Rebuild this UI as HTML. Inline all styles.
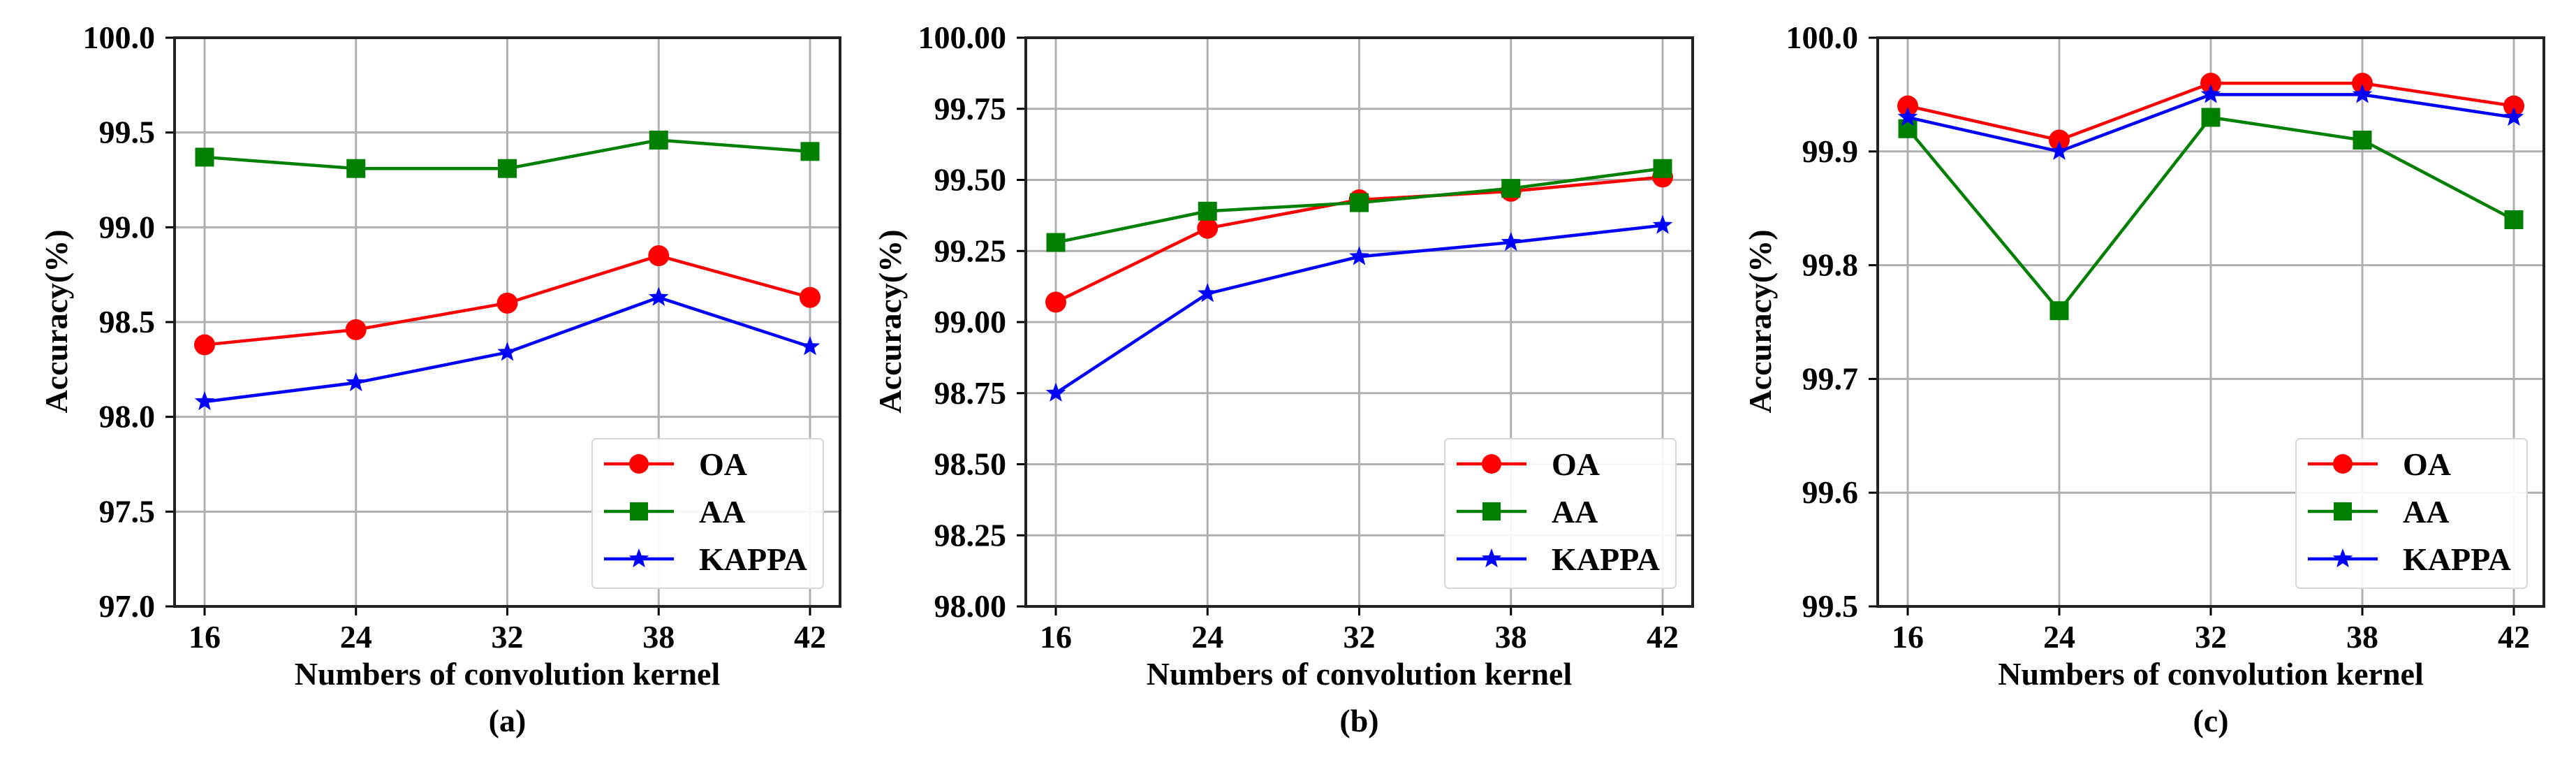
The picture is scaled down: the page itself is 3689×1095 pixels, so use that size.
<!DOCTYPE html>
<html><head><meta charset="utf-8"><style>
html,body{margin:0;padding:0;background:#fff}
svg{display:block}
text{font-family:"Liberation Serif",serif;font-weight:bold;fill:#000}
</style></head>
<body>
<svg id="fig" width="3689" height="1095" viewBox="0 0 3689 1095" xmlns="http://www.w3.org/2000/svg"></svg>
<script>
const categories = ["16","24","32","38","42"];
const aOA = [98.38,98.46,98.60,98.85,98.63];
const aAA = [99.37,99.31,99.31,99.46,99.40];
const aKAPPA = [98.08,98.18,98.34,98.63,98.37];
const bOA = [99.07,99.33,99.43,99.46,99.51];
const bAA = [99.28,99.39,99.42,99.47,99.54];
const bKAPPA = [98.75,99.10,99.23,99.28,99.34];
const cOA = [99.94,99.91,99.96,99.96,99.94];
const cAA = [99.92,99.76,99.93,99.91,99.84];
const cKAPPA = [99.93,99.90,99.95,99.95,99.93];
const aTicks = ["97.0","97.5","98.0","98.5","99.0","99.5","100.0"];
const bTicks = ["98.00","98.25","98.50","98.75","99.00","99.25","99.50","99.75","100.00"];
const cTicks = ["99.5","99.6","99.7","99.8","99.9","100.0"];
const seriesNames = ["OA","AA","KAPPA"];

const NS="http://www.w3.org/2000/svg";
const svg=document.getElementById('fig');
function mk(tag,attrs,parent){const e=document.createElementNS(NS,tag);for(const k in attrs)e.setAttribute(k,attrs[k]);(parent||svg).appendChild(e);return e;}
const colors={OA:"#ff0000",AA:"#008000",KAPPA:"#0000ff"};

function starPts(cx,cy,R){const r=R*0.42;let p=[];for(let i=0;i<10;i++){const a=-Math.PI/2+i*Math.PI/5;const rr=i%2?r:R;p.push((cx+rr*Math.cos(a)).toFixed(1)+","+(cy+rr*Math.sin(a)).toFixed(1));}return p.join(" ");}
function marker(g,name,x,y,big){
  let m;
  if(name==="OA"){m=mk('circle',{cx:x,cy:y,r:big?14:15,fill:colors.OA},g);}
  else if(name==="AA"){const s=big?26:27;m=mk('rect',{x:x-s/2,y:y-s/2,width:s,height:s,fill:colors.AA},g);}
  else{m=mk('polygon',{points:starPts(x,y,15),fill:colors.KAPPA},g);}
  return m;
}

function panel(id,L,R,yTicks,series,label,ylx){
  const T=54,B=868;
  const ymin=parseFloat(yTicks[0]),ymax=parseFloat(yTicks[yTicks.length-1]);
  const x0=L+43,x1=R-43;
  const xs=i=>x0+i*(x1-x0)/(categories.length-1);
  const ys=v=>B-(v-ymin)/(ymax-ymin)*(B-T);
  const g=mk('g',{});
  
  
  // grid
  yTicks.forEach(t=>{const y=ys(parseFloat(t));
    const gl=mk('line',{x1:L,x2:R,y1:y,y2:y,stroke:"#b0b0b0","stroke-width":3},g);
    
    const tk=mk('line',{x1:L-13,x2:L,y1:y,y2:y,stroke:"#000","stroke-width":3},g);
    
    const tx=mk('text',{x:L-28,y:y+15,"text-anchor":"end","font-size":46},g);tx.textContent=t;
    
  });
  categories.forEach((c,i)=>{const x=xs(i);
    const gl=mk('line',{x1:x,x2:x,y1:T,y2:B,stroke:"#b0b0b0","stroke-width":3},g);
    
    const tk=mk('line',{x1:x,x2:x,y1:B,y2:B+13,stroke:"#000","stroke-width":3},g);
    
    const tx=mk('text',{x:x,y:927,"text-anchor":"middle","font-size":46},g);tx.textContent=c;
    
  });
  const fr=mk('rect',{x:L,y:T,width:R-L,height:B-T,fill:"none",stroke:"#222","stroke-width":4},g);
  
  // series
  seriesNames.forEach((n,k)=>{const vals=series[k];
    const sg=mk('g',{},g);
    
    const pl=mk('polyline',{points:vals.map((v,i)=>xs(i)+","+ys(v)).join(" "),fill:"none",stroke:colors[n],"stroke-width":4.5},sg);
    
    vals.forEach((v,i)=>{const m=marker(sg,n,xs(i),ys(v));
      
      });
  });
  // legend
  const lx=R-355,ly=628;
  const lg=mk('g',{},g);
  
  mk('rect',{x:lx,y:ly,width:331,height:214,rx:6,fill:"#fff",stroke:"#d8d8d8","stroke-width":2,"fill-opacity":0.9},lg);
  seriesNames.forEach((n,k)=>{const y=ly+36+k*68;
    const e=mk('g',{},lg);
    
    mk('line',{x1:lx+17,x2:lx+117,y1:y,y2:y,stroke:colors[n],"stroke-width":4.5},e);
    marker(e,n,lx+67,y,true);
    const t=mk('text',{x:lx+153,y:y+16,"font-size":46},e);t.textContent=n;
  });
  // labels
  const cx=(L+R)/2;
  const xl=mk('text',{x:cx,y:980,"text-anchor":"middle","font-size":46},g);xl.textContent="Numbers of convolution kernel";
  
  const yl=mk('text',{x:ylx,y:460,"text-anchor":"middle","font-size":46,transform:`rotate(-90 ${ylx} 460)`},g);yl.textContent="Accuracy(%)";
  
  const pl=mk('text',{x:cx,y:1047,"text-anchor":"middle","font-size":46},g);pl.textContent="("+label+")";
  
}
panel('a',250,1203,aTicks,[aOA,aAA,aKAPPA],'a',96);
panel('b',1469,2424,bTicks,[bOA,bAA,bKAPPA],'b',1290);
panel('c',2689,3643,cTicks,[cOA,cAA,cKAPPA],'c',2536);
</script>
</body></html>
